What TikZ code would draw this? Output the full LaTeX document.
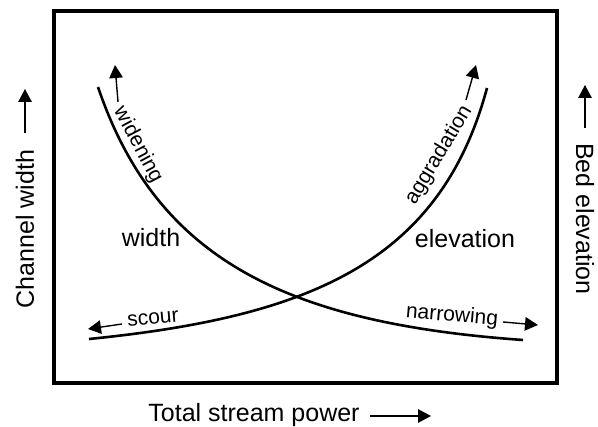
\documentclass[tikz,border=0pt]{standalone}
\usepackage{fontspec}
\setmainfont{Liberation Sans}
\usetikzlibrary{arrows.meta}

\begin{document}
\begin{tikzpicture}[
    x=1pt, y=-1pt,
    every node/.style = {inner sep=0pt, font=\fontsize{25}{30}\selectfont},
    small/.style      = {font=\fontsize{21}{25}\selectfont},
    curve/.style      = {line width=2.6pt},
    arr/.style        = {line width=1.4pt, -{Triangle[length=13pt,width=13.5pt]}}
    ]
  \useasboundingbox (0,0) rectangle (598,427);

  % frame ----------------------------------------------------
  \draw[line width=4pt] (54,11) rectangle (557,383);

  % curves ---------------------------------------------------
  \coordinate (w0) at (98,87);
  \coordinate (w1) at (523,340);
  \coordinate (e0) at (89,339);
  \coordinate (e1) at (487,88);
  \draw[curve] (w0) .. controls (156,258) and (284,323) .. (w1);
  \draw[curve] (e0) .. controls (308,317) and (440,263) .. (e1);

  % labels ---------------------------------------------------
  \node (width)  at (151,238) {width};
  \node (elev)   at (465,239) {elevation};
  \node[small, rotate=-62] (widen) at (138,145) {widening};
  \node[small, rotate=59]  (aggr)  at (439,155) {aggradation};
  \node[small, rotate=5]   (scour) at (153,319) {scour};
  \node[small, rotate=-5]  (narr)  at (452,316) {narrowing};

  \node[rotate=90]  (chw) at (25,229)  {Channel width};
  \node[rotate=-90] (bed) at (585,219) {Bed elevation};
  \node             (tsp) at (254,415) {Total stream power};

  % arrows ---------------------------------------------------
  \coordinate (widen0) at (118,102);  \coordinate (widen1) at (115,65);
  \coordinate (aggr0)  at (466,100);  \coordinate (aggr1)  at (476,65);
  \coordinate (scour0) at (122,324);  \coordinate (scour1) at (88,329);
  \coordinate (narr0)  at (503,322);  \coordinate (narr1)  at (538,325);
  \coordinate (chw0)   at (25,133);   \coordinate (chw1)   at (25,89);
  \coordinate (bed0)   at (585,128);  \coordinate (bed1)   at (585,85);
  \coordinate (tsp0)   at (370,416);  \coordinate (tsp1)   at (431,416);
  \draw[arr] (widen0) -- (widen1);
  \draw[arr] (aggr0) -- (aggr1);
  \draw[arr] (scour0) -- (scour1);
  \draw[arr] (narr0) -- (narr1);
  \draw[arr] (chw0) -- (chw1);
  \draw[arr] (bed0) -- (bed1);
  \draw[arr] (tsp0) -- (tsp1);
\end{tikzpicture}
\end{document}
